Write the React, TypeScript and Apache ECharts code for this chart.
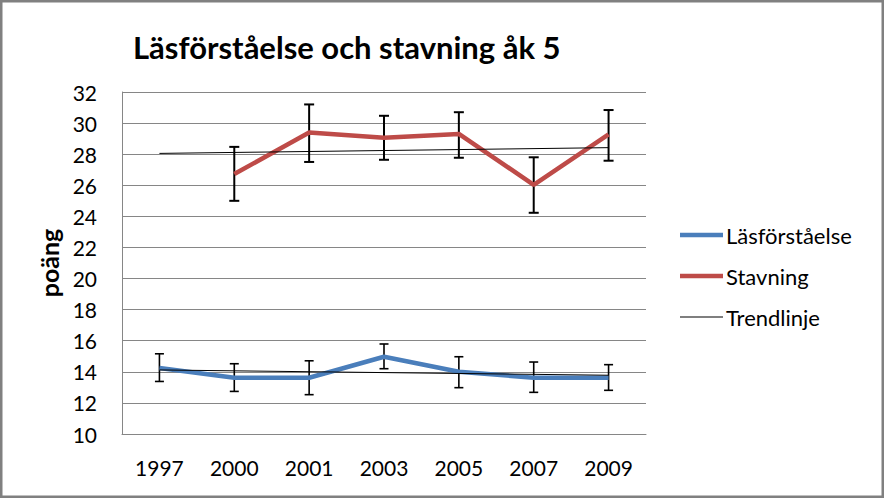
import React, { useEffect, useRef } from "react";
import * as echarts from "echarts";

const years = ["1997", "2000", "2001", "2003", "2005", "2007", "2009"];
const lasValues = [14.25, 13.62, 13.62, 14.97, 14.0, 13.62, 13.62];
const lasLow = [13.38, 12.74, 12.53, 14.2, 12.98, 12.68, 12.81];
const lasHigh = [15.16, 14.52, 14.71, 15.79, 14.97, 14.63, 14.46];
const stavValues = [null, 26.72, 29.4, 29.05, 29.3, 26.03, 29.27];
const stavLow = [null, 25.0, 27.5, 27.64, 27.77, 24.23, 27.58];
const stavHigh = [null, 28.47, 31.2, 30.47, 30.7, 27.8, 30.84];
const lasTrend = [14.12, null, null, null, null, null, 13.78];
const stavTrend = [28.05, null, null, null, null, null, 28.42];

const FONT = "Lato";

function errorData(low: (number | null)[], high: (number | null)[]) {
  const out: number[][] = [];
  low.forEach((l, i) => {
    const h = high[i];
    if (l != null && h != null) out.push([i, l, h]);
  });
  return out;
}

function makeErrorRender(lineWidth: number, capHalf: number) {
  return (params: any, api: any) => {
    const x = api.value(0);
    const pLo = api.coord([x, api.value(1)]);
    const pHi = api.coord([x, api.value(2)]);
    const style = { stroke: "#000", lineWidth };
    return {
      type: "group",
      children: [
        { type: "line", shape: { x1: pHi[0], y1: pHi[1], x2: pLo[0], y2: pLo[1] }, style },
        { type: "line", shape: { x1: pHi[0] - capHalf, y1: pHi[1], x2: pHi[0] + capHalf, y2: pHi[1] }, style },
        { type: "line", shape: { x1: pLo[0] - capHalf, y1: pLo[1], x2: pLo[0] + capHalf, y2: pLo[1] }, style },
      ],
    };
  };
}

export default function App() {
  const ref = useRef<HTMLDivElement>(null);
  useEffect(() => {
    if (!ref.current) return;
    const chart = echarts.init(ref.current, undefined, { renderer: "svg" });
    const thick = "path://M0,0H40V4H0Z";
    const thin = "path://M0,0H40V1H0Z";
    chart.setOption({
      animation: false,
      backgroundColor: "#fff",
      title: {
        text: "Läsförståelse och stavning åk 5",
        left: 128,
        top: 26,
        textStyle: { fontFamily: FONT, fontWeight: "bold", fontSize: 31, color: "#000" },
      },
      grid: { left: 122, right: 238, top: 92, bottom: 64 },
      legend: {
        orient: "vertical",
        left: 675,
        top: 219,
        itemWidth: 43,
        itemHeight: 14,
        itemGap: 19,
        textStyle: { fontFamily: FONT, fontSize: 22, color: "#000", padding: [0, 0, 0, -2] },
        data: [
          { name: "Läsförståelse", icon: thick, itemStyle: { color: "#4a7ebb" } },
          { name: "Stavning", icon: thick, itemStyle: { color: "#be4b48" } },
          { name: "Trendlinje", icon: thin, itemStyle: { color: "#000" } },
        ],
      },
      xAxis: {
        type: "category",
        data: years,
        boundaryGap: true,
        axisLine: { lineStyle: { color: "#868686", width: 1 } },
        axisTick: { show: false },
        axisLabel: { fontFamily: FONT, fontSize: 21, color: "#000", margin: 23 },
      },
      yAxis: {
        type: "value",
        min: 10,
        max: 32,
        interval: 2,
        name: "poäng",
        nameLocation: "middle",
        nameRotate: 90,
        nameGap: 58,
        nameTextStyle: { fontFamily: FONT, fontWeight: "bold", fontSize: 25, color: "#000" },
        axisLine: { show: true, lineStyle: { color: "#868686", width: 1 } },
        axisTick: { show: false },
        axisLabel: { fontFamily: FONT, fontSize: 21, color: "#000", margin: 25 },
        splitLine: { lineStyle: { color: "#868686", width: 1 } },
      },
      graphic: [
        {
          type: "rect",
          shape: { x: 1.25, y: 1.25, width: 881.5, height: 495.5 },
          style: { fill: "none", stroke: "#808080", lineWidth: 2.5 },
          z: 100,
        },
      ],
      series: [
        {
          type: "custom",
          name: "errLas",
          renderItem: makeErrorRender(1.6, 4.5),
          data: errorData(lasLow, lasHigh),
          encode: { x: 0, y: [1, 2] },
          z: 1,
          silent: true,
        },
        {
          type: "custom",
          name: "errStav",
          renderItem: makeErrorRender(2, 5),
          data: errorData(stavLow, stavHigh),
          encode: { x: 0, y: [1, 2] },
          z: 1,
          silent: true,
        },
        {
          type: "line",
          name: "Läsförståelse",
          data: lasValues,
          symbol: "none",
          lineStyle: { color: "#4a7ebb", width: 4.5 },
          itemStyle: { color: "#4a7ebb" },
          z: 3,
        },
        {
          type: "line",
          name: "Stavning",
          data: stavValues,
          symbol: "none",
          lineStyle: { color: "#be4b48", width: 4.5 },
          itemStyle: { color: "#be4b48" },
          z: 3,
        },
        {
          type: "line",
          name: "Trendlinje",
          data: lasTrend,
          connectNulls: true,
          symbol: "none",
          lineStyle: { color: "#000", width: 1 },
          itemStyle: { color: "#000" },
          z: 4,
        },
        {
          type: "line",
          name: "Trendlinje",
          data: stavTrend,
          connectNulls: true,
          symbol: "none",
          lineStyle: { color: "#000", width: 1 },
          itemStyle: { color: "#000" },
          z: 4,
        },
      ],
    });
    return () => chart.dispose();
  }, []);
  return (
    <div
      ref={ref}
      style={{ position: "fixed", left: 0, top: 0, width: 884, height: 498 }}
    />
  );
}
